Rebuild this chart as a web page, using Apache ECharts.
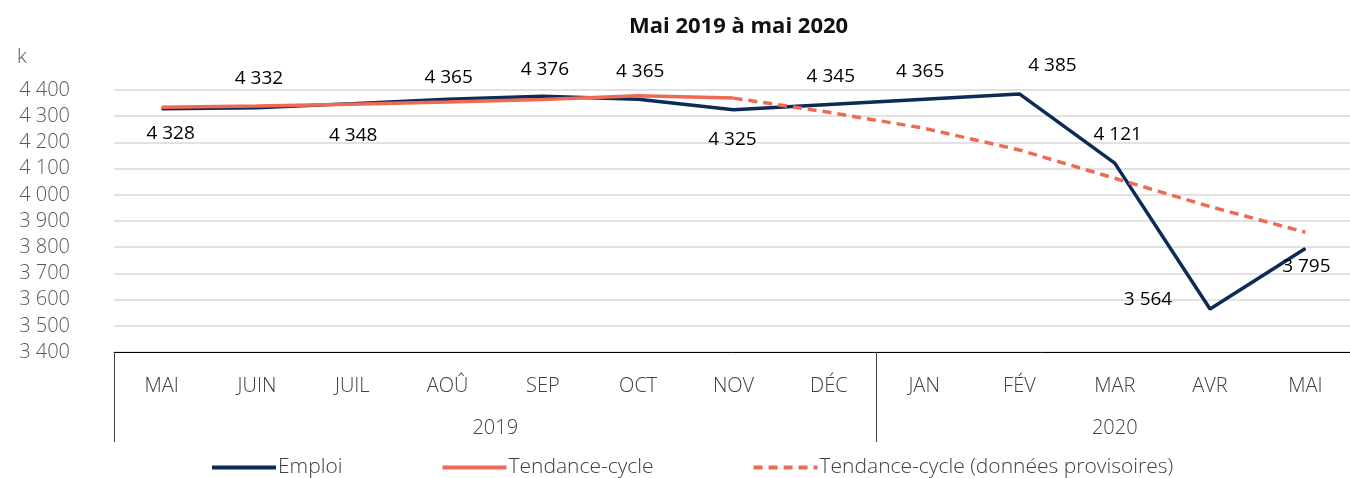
<!DOCTYPE html>
<html>
<head>
<meta charset="utf-8">
<title>Emploi – mai 2019 à mai 2020</title>
<script src="https://cdn.jsdelivr.net/npm/echarts@6/dist/echarts.min.js"></script>
<style>
    html, body { margin: 0; padding: 0; background: #fff; }
    #chart { width: 1350px; height: 478px; }
</style>
</head>
<body>
<div id="chart"></div>
<script>
// données (milliers)
const months = ['MAI', 'JUIN', 'JUIL', 'AOÛ', 'SEP', 'OCT', 'NOV', 'DÉC', 'JAN', 'FÉV', 'MAR', 'AVR', 'MAI']
const years = ['2019', '2020']
const monthsPerYear = [8, 5]
const emploi = [4328, 4332, 4348, 4365, 4376, 4365, 4325, 4345, 4365, 4385, 4121, 3564, 3795]
const tendance = [4334, 4339, 4346, 4354, 4364, 4378, 4369, null, null, null, null, null, null]
const tendanceProvisoire = [null, null, null, null, null, null, 4369, 4315, 4254, 4171, 4063, 3955, 3857]
const yTicks = { min: 3400, max: 4400, step: 100 }

// décalage des étiquettes (px, centre du texte par rapport au point)
const labelOffsets = [
    [9, 25], [2, -29], [1, 32], [1, -22], [2, -27], [2, -28], [-1, 30],
    [2, -28], [-4, -28], [33, -28], [3, -29], [-62, -9], [1, 18],
]

const NAVY = '#0c2b55'
const ORANGE = '#ee6a55'
const FONT = '"Open Sans", "Noto Sans", sans-serif'

function fmt(v) {
    return String(Math.round(v)).replace(/\B(?=(\d{3})+(?!\d))/g, ' ')
}

// centres des années sur un axe de 0 à 13
const yearCenters = []
let acc = 0
monthsPerYear.forEach((n) => { yearCenters.push(acc + n / 2); acc += n })
const yearBreaks = [0]
monthsPerYear.slice(0, -1).reduce((s, n) => { yearBreaks.push(s + n); return s + n }, 0)

const chart = echarts.init(document.getElementById('chart'), null, { renderer: 'canvas' })

chart.setOption({
    animation: false,
    backgroundColor: '#fff',
    textStyle: { fontFamily: FONT },
    title: [
        { text: 'Mai 2019 à mai 2020', left: 624, top: 11, textStyle: { fontFamily: FONT, fontSize: 22, fontWeight: 'bold', color: '#111' } },
        { text: 'k', left: 12, top: 42, textStyle: { fontFamily: FONT, fontSize: 20, fontWeight: 300, color: '#595959' } },
    ],
    legend: {
        left: 210,
        top: 457,
        padding: 0,
        itemWidth: 64,
        itemHeight: 12,
        itemGap: 98,
        itemStyle: { opacity: 0 },
        lineStyle: { width: 4 },
        textStyle: { fontFamily: FONT, fontSize: 21, fontWeight: 300, color: '#404040', padding: [0, 0, 0, -3] },
        data: ['Emploi', 'Tendance-cycle', 'Tendance-cycle (données provisoires)'],
    },
    grid: { left: 114, width: 1239, top: 90, bottom: 126, outerBoundsMode: 'none', containLabel: false },
    xAxis: [
        {
            type: 'category',
            data: months,
            boundaryGap: true,
            axisLine: { lineStyle: { color: '#000', width: 1 } },
            axisTick: {
                show: true,
                length: 90,
                interval: (i) => yearBreaks.includes(i),
                lineStyle: { color: '#404040', width: 1 },
            },
            axisLabel: { interval: 0, margin: 24, fontFamily: FONT, fontSize: 20, fontWeight: 300, color: '#404040' },
        },
        {
            type: 'value',
            position: 'bottom',
            min: 0,
            max: months.length,
            interval: 0.5,
            axisLine: { show: false },
            axisTick: { show: false },
            splitLine: { show: false },
            axisLabel: {
                margin: 66,
                fontFamily: FONT, fontSize: 20, fontWeight: 300, color: '#404040',
                formatter: (v) => {
                    const k = yearCenters.indexOf(v)
                    return k >= 0 ? years[k] : ''
                },
            },
        },
    ],
    yAxis: {
        type: 'value',
        min: yTicks.min,
        max: yTicks.max,
        interval: yTicks.step,
        axisLine: { show: false },
        axisTick: { show: false },
        splitLine: { lineStyle: { color: '#d9d9d9', width: 1.5 } },
        axisLabel: { margin: 44, fontFamily: FONT, fontSize: 20, fontWeight: 300, color: '#595959', formatter: fmt },
    },
    series: [
        {
            name: 'Emploi',
            type: 'line',
            symbol: 'circle',
            symbolSize: 1,
            showSymbol: true,
            z: 2,
            itemStyle: { color: NAVY },
            lineStyle: { color: NAVY, width: 3.5 },
            data: emploi.map((v, i) => ({
                value: v,
                label: {
                    show: true,
                    position: 'inside',
                    offset: labelOffsets[i],
                    formatter: (p) => fmt(p.value),
                    fontFamily: FONT,
                    fontSize: 19,
                    color: '#000',
                },
            })),
        },
        {
            name: 'Tendance-cycle',
            type: 'line',
            symbol: 'none',
            z: 3,
            itemStyle: { color: ORANGE },
            lineStyle: { color: ORANGE, width: 3.5 },
            data: tendance,
        },
        {
            name: 'Tendance-cycle (données provisoires)',
            type: 'line',
            symbol: 'none',
            z: 3,
            itemStyle: { color: ORANGE },
            lineStyle: { color: ORANGE, width: 3.5, type: [9, 6] },
            data: tendanceProvisoire,
        },
    ],
})
</script>
</body>
</html>
